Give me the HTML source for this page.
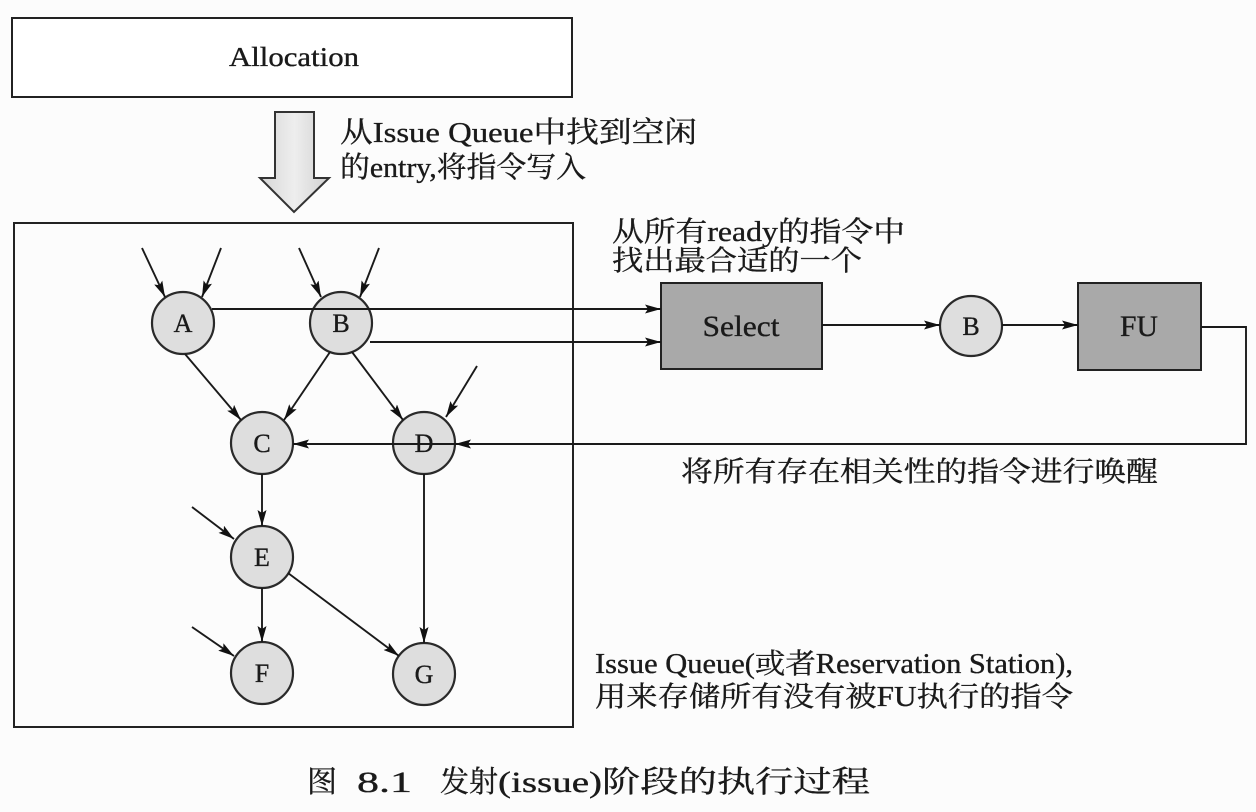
<!DOCTYPE html>
<html>
<head>
<meta charset="utf-8">
<style>
html,body{margin:0;padding:0;background:#fcfcfc;}
svg{display:block;}
text{font-family:"Liberation Serif","Noto Serif CJK SC",serif;fill:#1a1a1a;stroke:#1a1a1a;stroke-width:0.35px;}
</style>
</head>
<body>
<svg width="1256" height="812" viewBox="0 0 1256 812" xmlns="http://www.w3.org/2000/svg">
<defs>
<marker id="ah" markerUnits="userSpaceOnUse" markerWidth="16" markerHeight="9" refX="16" refY="4.5" orient="auto">
<path d="M0,0 L16,4.5 L0,9 L3,4.5 z" fill="#111"/>
</marker>
<linearGradient id="ag" x1="0" y1="0" x2="1" y2="0">
<stop offset="0" stop-color="#d6d6d6"/>
<stop offset="0.5" stop-color="#eeeeee"/>
<stop offset="1" stop-color="#d0d0d0"/>
</linearGradient>
</defs>
<rect width="1256" height="812" fill="#fcfcfc"/>

<!-- Allocation -->
<rect x="12" y="18" width="560" height="79" fill="#fff" stroke="#222" stroke-width="2"/>
<text x="294" y="66" font-size="27" text-anchor="middle" textLength="130" lengthAdjust="spacingAndGlyphs">Allocation</text>

<!-- big arrow -->
<polygon points="275,112 314,112 314,178 329,178 294,212 260,178 275,178" fill="url(#ag)" stroke="#333" stroke-width="2"/>

<text x="340" y="142" font-size="29" textLength="357" lengthAdjust="spacingAndGlyphs">从Issue Queue中找到空闲</text>
<text x="340" y="177" font-size="29" textLength="246" lengthAdjust="spacingAndGlyphs">的entry,将指令写入</text>

<!-- Issue queue box -->
<rect x="14" y="223" width="559" height="504" fill="none" stroke="#222" stroke-width="2"/>

<text x="612" y="241" font-size="28" textLength="293" lengthAdjust="spacingAndGlyphs">从所有ready的指令中</text>
<text x="612" y="270" font-size="28" textLength="250" lengthAdjust="spacingAndGlyphs">找出最合适的一个</text>

<!-- circles -->
<g fill="#dedede" stroke="#2a2a2a" stroke-width="2.2">
<circle cx="183" cy="323" r="31"/>
<circle cx="341" cy="323" r="31"/>
<circle cx="262" cy="443" r="31"/>
<circle cx="424" cy="443" r="31"/>
<circle cx="262" cy="557" r="31"/>
<circle cx="262" cy="673" r="31"/>
<circle cx="424" cy="674" r="31"/>
<ellipse cx="971" cy="326" rx="31" ry="30"/>
</g>
<g font-size="26" text-anchor="middle">
<text x="183" y="332">A</text>
<text x="341" y="332">B</text>
<text x="262" y="452">C</text>
<text x="424" y="452">D</text>
<text x="262" y="566">E</text>
<text x="262" y="682">F</text>
<text x="424" y="683">G</text>
<text x="971" y="335">B</text>
</g>

<!-- Select / FU -->
<rect x="661" y="283" width="161" height="86" fill="#a9a9a9" stroke="#222" stroke-width="2"/>
<text x="741" y="336" font-size="30" text-anchor="middle" textLength="77" lengthAdjust="spacingAndGlyphs">Select</text>
<rect x="1078" y="283" width="123" height="87" fill="#a9a9a9" stroke="#222" stroke-width="2"/>
<text x="1139" y="336" font-size="30" text-anchor="middle" textLength="38" lengthAdjust="spacingAndGlyphs">FU</text>

<!-- connectors -->
<g stroke="#1a1a1a" stroke-width="1.9" fill="none" marker-end="url(#ah)">
<line x1="142" y1="248" x2="165" y2="297"/>
<line x1="221" y1="248" x2="202" y2="297"/>
<line x1="299" y1="248" x2="321" y2="297"/>
<line x1="379" y1="248" x2="360" y2="297"/>
<line x1="477" y1="366" x2="446" y2="417"/>
<line x1="185" y1="354" x2="241" y2="420"/>
<line x1="330" y1="352" x2="284" y2="420"/>
<line x1="352" y1="352" x2="403" y2="420"/>
<line x1="212" y1="309" x2="661" y2="309"/>
<line x1="370" y1="342" x2="661" y2="342"/>
<line x1="262" y1="474" x2="262" y2="526"/>
<line x1="192" y1="507" x2="234" y2="539"/>
<line x1="262" y1="588" x2="262" y2="642"/>
<line x1="192" y1="627" x2="234" y2="656"/>
<line x1="288" y1="573" x2="399" y2="656"/>
<line x1="424" y1="474" x2="424" y2="643"/>
<line x1="822" y1="325" x2="940" y2="325"/>
<line x1="1002" y1="325" x2="1078" y2="325"/>
<polyline points="1201,327 1246,327 1246,444 293,444"/>
</g>
<path d="M455,444 L471,439.5 L468,444 L471,448.5 z" fill="#111"/>

<text x="681" y="481" font-size="28" textLength="477" lengthAdjust="spacingAndGlyphs">将所有存在相关性的指令进行唤醒</text>

<text x="595" y="673" font-size="28" textLength="478" lengthAdjust="spacingAndGlyphs">Issue Queue(或者Reservation Station),</text>
<text x="595" y="706" font-size="28" textLength="478" lengthAdjust="spacingAndGlyphs">用来存储所有没有被FU执行的指令</text>

<!-- caption -->
<text x="307" y="792" font-size="30" textLength="30" lengthAdjust="spacingAndGlyphs">图</text>
<text x="357" y="792" font-size="30" textLength="55" lengthAdjust="spacingAndGlyphs">8.1</text>
<text x="440" y="792" font-size="30" textLength="58" lengthAdjust="spacingAndGlyphs">发射</text>
<text x="498" y="792" font-size="30" textLength="104" lengthAdjust="spacingAndGlyphs">(issue)</text>
<text x="602" y="792" font-size="30" textLength="268" lengthAdjust="spacingAndGlyphs">阶段的执行过程</text>
</svg>
</body>
</html>
